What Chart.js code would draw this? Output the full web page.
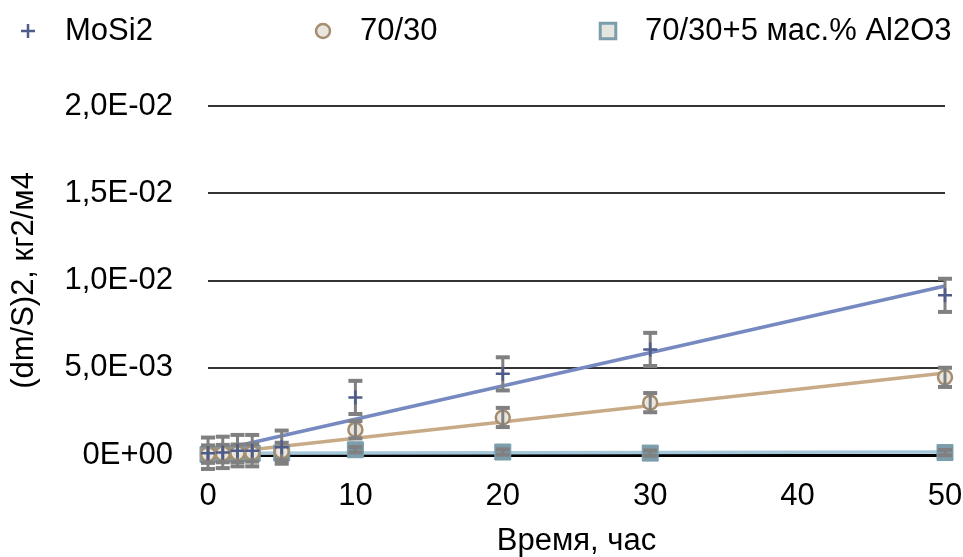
<!DOCTYPE html>
<html>
<head>
<meta charset="utf-8">
<script src="https://cdn.jsdelivr.net/npm/chart.js@4/dist/chart.umd.min.js"></script>
<style>
  html, body { margin: 0; padding: 0; background: #ffffff; }
  #wrap { position: relative; width: 963px; height: 557px; }
</style>
</head>
<body>
<div id="wrap"><canvas id="chart" width="963" height="557"></canvas></div>
<script>
// Oxidation test: squared specific mass change vs. exposure time
const hours      = [0, 1, 2, 3, 5, 10, 20, 30, 50];
const mosi2      = [0.00010, 0.00015, 0.00025, 0.00025, 0.00045, 0.00330, 0.00465, 0.00605, 0.00915];
const mosi2Err   = [0.00090, 0.00090, 0.00090, 0.00090, 0.00095, 0.00095, 0.00095, 0.00095, 0.00095];
const comp7030   = [0.00005, 0.00008, 0.00010, 0.00012, 0.00020, 0.00145, 0.00215, 0.00300, 0.00445];
const comp7030Err= [0.00050, 0.00050, 0.00050, 0.00050, 0.00050, 0.00050, 0.00055, 0.00055, 0.00055];
const alumina    = [0.00003, 0.00005, 0.00008, 0.00010, 0.00012, 0.00030, 0.00017, 0.00011, 0.00014];
const aluminaErr = [0.00015, 0.00015, 0.00015, 0.00015, 0.00015, 0.00015, 0.00015, 0.00015, 0.00015];

const seriesNames = ['MoSi2', '70/30', '70/30+5 мас.% Al2O3'];
const xTickValues = [0, 10, 20, 30, 40, 50];
const yTickValues = [0, 0.005, 0.010, 0.015, 0.020];
const yTickLabels = ['0E+00', '5,0E-03', '1,0E-02', '1,5E-02', '2,0E-02'];
const xTitle = 'Время, час';
const yTitle = '(dm/S)2, кг2/м4';

const FONT = '"Liberation Sans", Arial, Helvetica, sans-serif';
const COLORS = {
  plus: '#4e5b8b', mosiLine: '#7689c0',
  circleBorder: '#a58e70', circleFill: '#e8e6dd', line7030: '#c8aa86',
  square: '#7b9dac', squareFill: '#e3e5de', lineAl: '#a6c9da',
  err: '#808080', grid: '#333333'
};

const pts = (ys) => hours.map((h, i) => ({ x: h, y: ys[i] }));

// least-squares trend line across the time range
function trend(ys) {
  const n = hours.length;
  const mx = hours.reduce((a, b) => a + b, 0) / n;
  const my = ys.reduce((a, b) => a + b, 0) / n;
  let sxy = 0, sxx = 0;
  for (let i = 0; i < n; i++) { sxy += (hours[i] - mx) * (ys[i] - my); sxx += (hours[i] - mx) ** 2; }
  const b = sxy / sxx, a = my - b * mx;
  const x0 = hours[0], x1 = hours[n - 1];
  return [{ x: x0, y: a + b * x0 }, { x: x1, y: a + b * x1 }];
}

// vertical error bars with flat caps
function drawErrors(chart, ds) {
  const ctx = chart.ctx, xs = chart.scales.x, ys = chart.scales.y;
  ctx.save();
  ctx.fillStyle = COLORS.err;
  ds.errors.forEach((e, i) => {
    const px = xs.getPixelForValue(ds.data[i].x);
    const top = ys.getPixelForValue(ds.data[i].y + e);
    const bot = ys.getPixelForValue(ds.data[i].y - e);
    ctx.fillRect(px - 1.5, top, 3, bot - top);
    ctx.fillRect(px - 7, top - 2, 14, 4);
    ctx.fillRect(px - 7, bot - 2, 14, 4);
  });
  ctx.restore();
}

const errorBarPlugin = {
  id: 'errorBars',
  beforeDatasetDraw(chart, args) {
    const ds = chart.data.datasets[args.index];
    if (ds.errors && ds.errorLayer === 'below') drawErrors(chart, ds);
  },
  afterDatasetDraw(chart, args) {
    const ds = chart.data.datasets[args.index];
    if (ds.errors && ds.errorLayer === 'above') drawErrors(chart, ds);
  }
};

// legend row across the top
const legendPlugin = {
  id: 'topLegend',
  afterDraw(chart) {
    const ctx = chart.ctx;
    const y = 31;
    const items = [
      { mx: 28, tx: 65, style: { pointStyle: 'cross', radius: 7, borderWidth: 2.5, borderColor: COLORS.plus } },
      { mx: 323, tx: 360, style: { pointStyle: 'circle', radius: 7, borderWidth: 2.5, borderColor: COLORS.circleBorder, backgroundColor: COLORS.circleFill } },
      { mx: 608, tx: 645, style: { pointStyle: 'rect', radius: 11, borderWidth: 3, borderColor: COLORS.square, backgroundColor: COLORS.squareFill } }
    ];
    ctx.save();
    items.forEach((it, i) => {
      ctx.fillStyle = it.style.backgroundColor || 'transparent';
      ctx.strokeStyle = it.style.borderColor;
      ctx.lineWidth = it.style.borderWidth;
      Chart.helpers.drawPoint(ctx, it.style, it.mx, y);
      ctx.fillStyle = '#000';
      ctx.font = '31px ' + FONT;
      ctx.textBaseline = 'middle';
      ctx.textAlign = 'left';
      ctx.fillText(seriesNames[i], it.tx, y);
    });
    ctx.restore();
  }
};

new Chart(document.getElementById('chart'), {
  type: 'scatter',
  data: {
    datasets: [
      {
        label: seriesNames[0], data: pts(mosi2), errors: mosi2Err, errorLayer: 'below',
        pointStyle: 'cross', pointRadius: 7, pointBorderWidth: 2.5,
        borderColor: COLORS.plus, backgroundColor: COLORS.plus, clip: false
      },
      {
        label: seriesNames[1], data: pts(comp7030), errors: comp7030Err, errorLayer: 'above',
        pointStyle: 'circle', pointRadius: 7, pointBorderWidth: 2.5,
        borderColor: COLORS.circleBorder, backgroundColor: COLORS.circleFill, clip: false
      },
      {
        label: seriesNames[2], data: pts(alumina), errors: aluminaErr, errorLayer: 'above',
        pointStyle: 'rect', pointRadius: 11.3, pointBorderWidth: 1,
        borderColor: COLORS.square, backgroundColor: COLORS.square, clip: false
      },
      {
        type: 'line', label: 'trend-mosi2', data: trend(mosi2), borderColor: COLORS.mosiLine,
        borderWidth: 3.5, pointRadius: 0, fill: false, clip: false
      },
      {
        type: 'line', label: 'trend-7030', data: trend(comp7030), borderColor: COLORS.line7030,
        borderWidth: 3.5, pointRadius: 0, fill: false, clip: false
      },
      {
        type: 'line', label: 'trend-al', data: trend(alumina), borderColor: COLORS.lineAl,
        borderWidth: 3.5, pointRadius: 0, fill: false, clip: false
      }
    ]
  },
  options: {
    responsive: false,
    animation: false,
    events: [],
    layout: { padding: { top: 106, left: 0, right: 18, bottom: 0 } },
    plugins: { legend: { display: false }, tooltip: { enabled: false } },
    scales: {
      x: {
        type: 'linear', min: 0, max: 50,
        afterBuildTicks: (s) => { s.ticks = xTickValues.map(v => ({ value: v })); },
        afterFit: (s) => { s.height = 102; s.paddingLeft = 0; s.paddingRight = 0; },
        grid: { display: false, drawTicks: false },
        border: { display: false },
        ticks: { padding: 23, color: '#000', font: { family: FONT, size: 31 }, callback: (v) => String(v) },
        title: { display: true, text: xTitle, color: '#000', font: { family: FONT, size: 31, lineHeight: 1 }, padding: { top: 0, bottom: 0 } }
      },
      y: {
        type: 'linear', min: 0, max: 0.02,
        afterBuildTicks: (s) => { s.ticks = yTickValues.map(v => ({ value: v })); },
        afterFit: (s) => { s.width = 208; },
        grid: {
          drawTicks: false,
          color: (c) => c.tick && c.tick.value === 0 ? '#000000' : COLORS.grid,
          lineWidth: (c) => c.tick && c.tick.value === 0 ? 3 : 2
        },
        border: { display: false },
        ticks: { padding: 35, color: '#000', font: { family: FONT, size: 31 }, callback: (v, i) => yTickLabels[i] },
        title: { display: true, text: yTitle, color: '#000', font: { family: FONT, size: 31, lineHeight: 1 }, padding: { top: 9, bottom: 0 } }
      }
    }
  },
  plugins: [errorBarPlugin, legendPlugin]
});
</script>
</body>
</html>
